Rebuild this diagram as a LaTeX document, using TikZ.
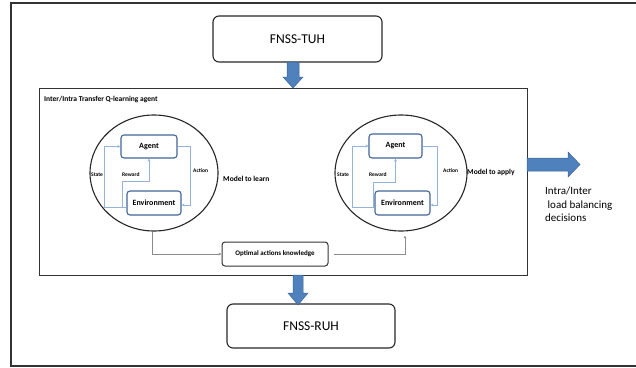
\documentclass[tikz,border=0pt]{standalone}
\usepackage{fontspec}
\setmainfont{Carlito}
\usetikzlibrary{arrows.meta,shapes.geometric}
\definecolor{boxblue}{HTML}{41649B}
\definecolor{linkblue}{HTML}{95B3D7}
\definecolor{fatblue}{HTML}{4F81BD}
\definecolor{fatedge}{HTML}{3A6495}
\tikzset{
  outerframe/.style={draw=black!80,line width=1.4pt},
  mainbox/.style={draw=black!85,line width=1.1pt,rounded corners=6pt,minimum width=169pt,minimum height=46pt,font=\fontsize{13.5}{15}\selectfont},
  agentbox/.style={draw=black!80,line width=1pt},
  loop/.style={draw=black!85,ellipse,line width=1.1pt,inner sep=0pt},
  inbox/.style={draw=boxblue,line width=1.1pt,rounded corners=3pt,fill=white,font=\bfseries\fontsize{8}{9}\selectfont,inner sep=0pt},
  bluelink/.style={draw=linkblue,line width=0.8pt,-{Stealth[length=3pt,width=3pt]}},
  greylink/.style={draw=black!45,line width=0.7pt,-{Stealth[length=3pt,width=2.5pt]}},
  smalllab/.style={font=\bfseries\fontsize{5.5}{6}\selectfont,inner sep=0pt},
  modellab/.style={font=\bfseries\fontsize{7.5}{8}\selectfont,inner sep=0pt,anchor=west},
  fat/.style={fill=fatblue,draw=fatedge,line width=0.5pt}
}
\begin{document}
\begin{tikzpicture}[x=1pt,y=-1pt]
\useasboundingbox (0,0) rectangle (636,367);
% outer frame
\draw[outerframe] (641,3) -- (11,3) -- (11,366) -- (641,366);
% top and bottom boxes
\node[mainbox] (tuh) at (297.5,39) {FNSS-TUH};
\node[mainbox,minimum width=168pt,minimum height=44pt] (ruh) at (311,326) {FNSS-RUH};
% inner agent box
\draw[agentbox] (39,88) rectangle (527,275);
\node[font=\bfseries\fontsize{7.5}{8}\selectfont,anchor=west,inner sep=0pt] (title) at (44,100) {Inter/Intra Transfer Q-learning agent};
% fat arrows
\path[fat] (287,62) -- (299,62) -- (299,77) -- (303,77) -- (293,88) -- (283,77) -- (287,77) -- cycle;
\path[fat] (293,275) -- (303,275) -- (303,293) -- (308,293) -- (298,305) -- (288,293) -- (293,293) -- cycle;
\path[fat] (527,158) -- (568,158) -- (568,152) -- (580,164.5) -- (568,177) -- (568,171) -- (527,171) -- cycle;
% left loop
\node[loop,minimum width=128pt,minimum height=116pt] (lell) at (154,173) {};
\node[inbox,minimum width=56pt,minimum height=23pt] (lagent) at (149,146.5) {Agent};
\node[inbox,minimum width=54pt,minimum height=24pt] (lenv) at (154,203) {Environment};
\draw[bluelink] ([yshift=-4pt]lenv.west) -| ([xshift=-16pt]lagent.west) -- (lagent.west);
\draw[bluelink] (lagent.east) -- ++(13,0) |- ([yshift=-2pt]lenv.east);
\draw[bluelink] ([xshift=-4pt,yshift=-4pt]lenv.west) -- ++(0,-26) -| (lagent.south);
\node[smalllab,anchor=west] (lstate) at (91,175) {State};
\node[smalllab,anchor=west] (lreward) at (122,175) {Reward};
\node[smalllab,anchor=west] (laction) at (193,171) {Action};
\node[modellab] (llearn) at (223,179) {Model to learn};
% right loop
\node[loop,minimum width=132pt,minimum height=116pt] (rell) at (401,173) {};
\node[inbox,minimum width=53pt,minimum height=24pt] (ragent) at (395.5,146) {Agent};
\node[inbox,minimum width=55pt,minimum height=24pt] (renv) at (402.5,203) {Environment};
\draw[bluelink] ([yshift=-4pt]renv.west) -| ([xshift=-16pt]ragent.west) -- (ragent.west);
\draw[bluelink] (ragent.east) -- ++(15,0) |- ([yshift=-2pt]renv.east);
\draw[bluelink] ([xshift=-1pt,yshift=-4pt]renv.west) -- ++(0,-25) -| (ragent.south);
\node[smalllab,anchor=west] (rstate) at (337,175) {State};
\node[smalllab,anchor=west] (rreward) at (369,175) {Reward};
\node[smalllab,anchor=west] (raction) at (443,171) {Action};
\node[modellab] (rapply) at (467,172) {Model to apply};
% knowledge box
\node[draw=black!80,line width=1pt,rounded corners=3pt,minimum width=106pt,minimum height=24pt,font=\bfseries\fontsize{7}{8}\selectfont,inner sep=0pt] (optk) at (275,254) {Optimal actions knowledge};
\draw[greylink] ([xshift=-2pt]lell.south) |- (optk.west);
\draw[greylink] ([xshift=5pt]optk.east) -| ([shift={(4,4)}]rell.south);
% decisions text
\node[anchor=north west,align=left,inner sep=0pt,font=\fontsize{11}{13.5}\selectfont] (dec) at (545,187) {Intra/Inter\\\hspace{2.5pt}load balancing\\decisions};
\end{tikzpicture}
\end{document}
